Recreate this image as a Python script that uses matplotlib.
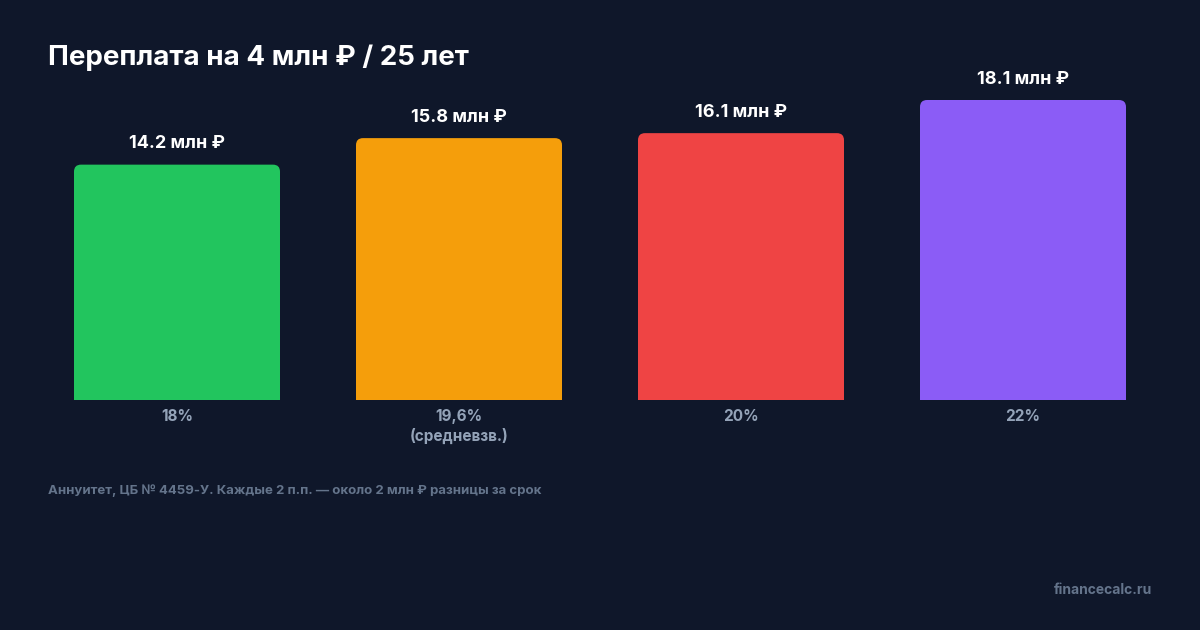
import matplotlib
matplotlib.use('Agg')
import matplotlib.pyplot as plt
from matplotlib.patches import FancyBboxPatch, Rectangle

rates = ['18%', '19,6%\n(средневзв.)', '20%', '22%']
overpay = [14.2, 15.8, 16.1, 18.1]
colors = ['#22c55e', '#f59e0b', '#ef4444', '#8b5cf6']

BG = '#0f172a'
FONT = ['Inter', 'DejaVu Sans']

fig = plt.figure(figsize=(12, 6.3), dpi=100, facecolor=BG)
ax = fig.add_axes([36 / 1200, 230 / 630, 1128 / 1200, 300 / 630])
ax.set_facecolor(BG)
ax.set_xlim(-0.5, 3.5)
ax.set_ylim(0, max(overpay))
ax.axis('off')

width = 206 / 282
rx = 7 / 282
ry = 7 / 300 * max(overpay)
for i, (v, c) in enumerate(zip(overpay, colors)):
    x0 = i - width / 2
    ax.add_patch(FancyBboxPatch((x0 + rx, ry), width - 2 * rx, v - 2 * ry,
                                boxstyle='round,pad={}'.format(rx),
                                mutation_aspect=ry / rx, fc=c, ec='none',
                                clip_on=False))
    ax.add_patch(Rectangle((x0, 0), width, v / 2, fc=c, ec='none'))
    ax.text(i, v + 0.75, '{} млн ₽'.format(v), ha='center', va='bottom',
            color='white', fontsize=13, fontweight='bold', family=FONT)
    ax.text(i, -0.55, rates[i], ha='center', va='top', color='#94a3b8',
            fontsize=11, fontweight='bold', family=FONT, linespacing=1.3)

fig.text(48 / 1200, 1 - 58 / 630, 'Переплата на 4 млн ₽ / 25 лет', color='white',
         fontsize=20, fontweight='bold', family=FONT, va='center')
fig.text(48 / 1200, 1 - 491 / 630,
         'Аннуитет, ЦБ № 4459-У. Каждые 2 п.п. — около 2 млн ₽ разницы за срок',
         color='#64748b', fontsize=9.5, fontweight='bold', family=FONT, va='center')
fig.text(1152 / 1200, 1 - 590 / 630, 'financecalc.ru', color='#64748b',
         fontsize=10, fontweight='bold', family=FONT, ha='right', va='center')

fig.savefig('out.png', facecolor=BG)
